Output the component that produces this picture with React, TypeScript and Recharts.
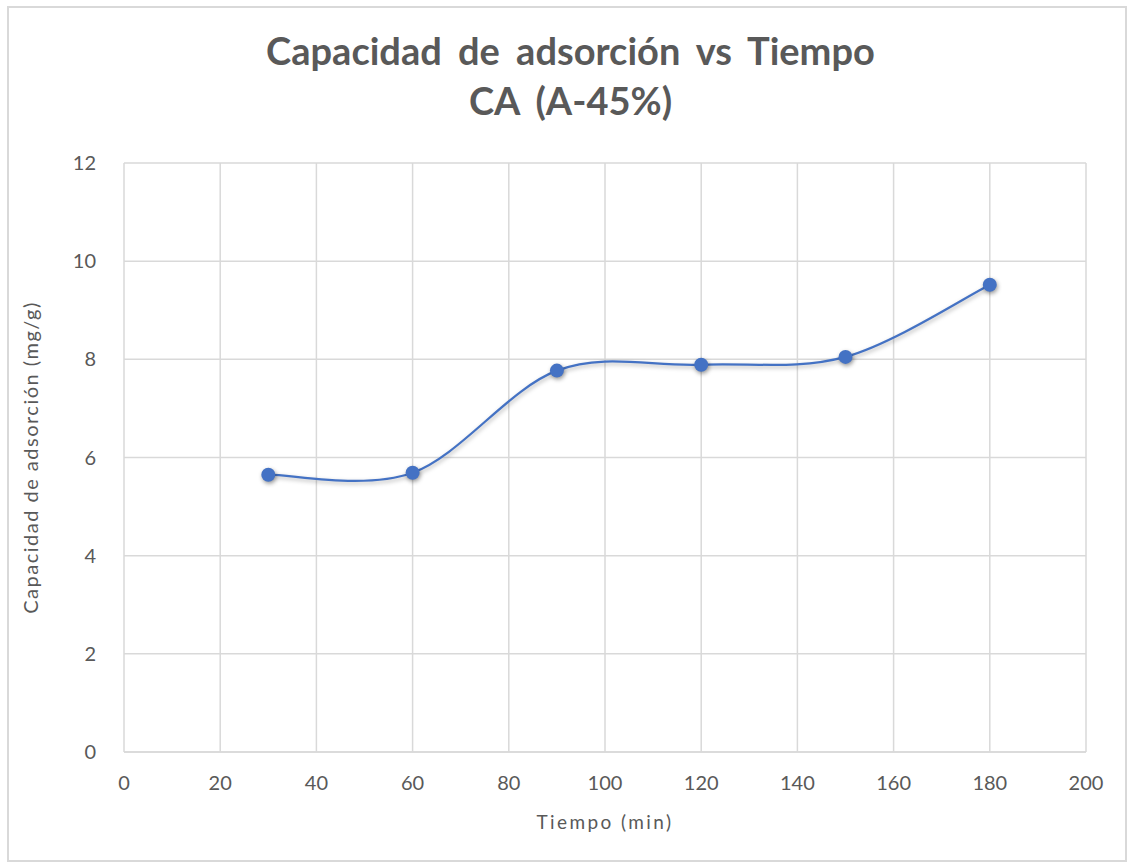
import React from 'react';
import { LineChart, Line, XAxis, YAxis, CartesianGrid, Label } from 'recharts';

const tiempo = [30, 60, 90, 120, 150, 180];
const capacidad = [5.65, 5.69, 7.77, 7.89, 8.05, 9.52];
const xTicks = [0, 20, 40, 60, 80, 100, 120, 140, 160, 180, 200];
const yTicks = [0, 2, 4, 6, 8, 10, 12];

const data = tiempo.map((t, i) => ({ tiempo: t, capacidad: capacidad[i] }));

const BLUE = '#4472C4';
const GRID = '#d9d9d9';
const TEXT = '#595959';
const FONT = 'Lato, "Open Sans", sans-serif';

// smooth line like the spreadsheet one (catmull-rom style bezier)
function smoothCurve(context: any) {
  let pts: [number, number][] = [];
  return {
    areaStart() {},
    areaEnd() {},
    lineStart() {
      pts = [];
    },
    point(x: number, y: number) {
      pts.push([+x, +y]);
    },
    lineEnd() {
      if (!pts.length) return;
      context.moveTo(pts[0][0], pts[0][1]);
      for (let i = 0; i < pts.length - 1; i++) {
        const p0 = pts[i - 1] || pts[i];
        const p1 = pts[i];
        const p2 = pts[i + 1];
        const p3 = pts[i + 2] || p2;
        context.bezierCurveTo(
          p1[0] + (p2[0] - p0[0]) / 6,
          p1[1] + (p2[1] - p0[1]) / 6,
          p2[0] - (p3[0] - p1[0]) / 6,
          p2[1] - (p3[1] - p1[1]) / 6,
          p2[0],
          p2[1]
        );
      }
    },
  };
}

const Dot = (props: any) => {
  const { cx, cy } = props;
  if (cx == null || cy == null) return null;
  return (
    <circle
      cx={cx}
      cy={cy}
      r={7}
      fill={BLUE}
      style={{ filter: 'drop-shadow(1px 2px 2px rgba(0,0,0,0.4))' }}
    />
  );
};

const YTitle = (props: any) => {
  const vb = props.viewBox || {};
  const cy = (vb.y ?? 163) + (vb.height ?? 589) / 2;
  return (
    <text
      x={30}
      y={cy}
      transform={`rotate(-90, 30, ${cy})`}
      textAnchor="middle"
      dominantBaseline="central"
      fill={TEXT}
      fontSize={20}
      fontFamily={FONT}
      letterSpacing={1.5}
    >
      Capacidad de adsorción (mg/g)
    </text>
  );
};

export default function App() {
  return (
    <div style={{ position: 'absolute', left: 0, top: 0, width: 1131, height: 864, background: '#fff', fontFamily: FONT }}>
      <style>{`.recharts-line-curve { filter: drop-shadow(1px 2px 2px rgba(0,0,0,0.3)); }`}</style>
      <div
        style={{
          position: 'absolute',
          left: 7,
          top: 6,
          width: 1120,
          height: 856,
          border: `2px solid ${GRID}`,
          boxSizing: 'border-box',
        }}
      />
      <div
        style={{
          position: 'absolute',
          left: 0,
          top: 25,
          width: 1131,
          textAlign: 'center',
          color: TEXT,
          fontWeight: 700,
          fontSize: 38,
          lineHeight: '50px',
          wordSpacing: 7,
        }}
      >
        <div style={{ paddingLeft: 10 }}>Capacidad de adsorción vs Tiempo</div>
        <div style={{ paddingLeft: 10 }}>CA (A-45%)</div>
      </div>
      <div style={{ position: 'absolute', left: 0, top: 0 }}>
        <LineChart
          width={1131}
          height={864}
          data={data}
          margin={{ top: 163, right: 45, bottom: 82, left: 64 }}
        >
          <CartesianGrid stroke={GRID} strokeWidth={1.5} vertical horizontal />
          <XAxis
            dataKey="tiempo"
            type="number"
            domain={[0, 200]}
            ticks={xTicks}
            interval={0}
            axisLine={{ stroke: GRID, strokeWidth: 1.5 }}
            tickLine={false}
            tick={{ fill: TEXT, fontSize: 20, fontFamily: FONT }}
            tickMargin={18}
            height={30}
          >
            <Label
              value="Tiempo (min)"
              position="insideBottom"
              offset={-47}
              style={{ fill: TEXT, fontSize: 19, fontFamily: FONT, letterSpacing: 2.4 }}
            />
          </XAxis>
          <YAxis
            type="number"
            domain={[0, 12]}
            ticks={yTicks}
            interval={0}
            axisLine={false}
            tickLine={false}
            tick={{ fill: TEXT, fontSize: 20, fontFamily: FONT }}
            tickMargin={22}
            width={60}
          >
            <Label content={<YTitle />} />
          </YAxis>
          <Line
            dataKey="capacidad"
            type={smoothCurve as any}
            stroke={BLUE}
            strokeWidth={2.25}
            dot={<Dot />}
            activeDot={false}
            isAnimationActive={false}
          />
        </LineChart>
      </div>
    </div>
  );
}
